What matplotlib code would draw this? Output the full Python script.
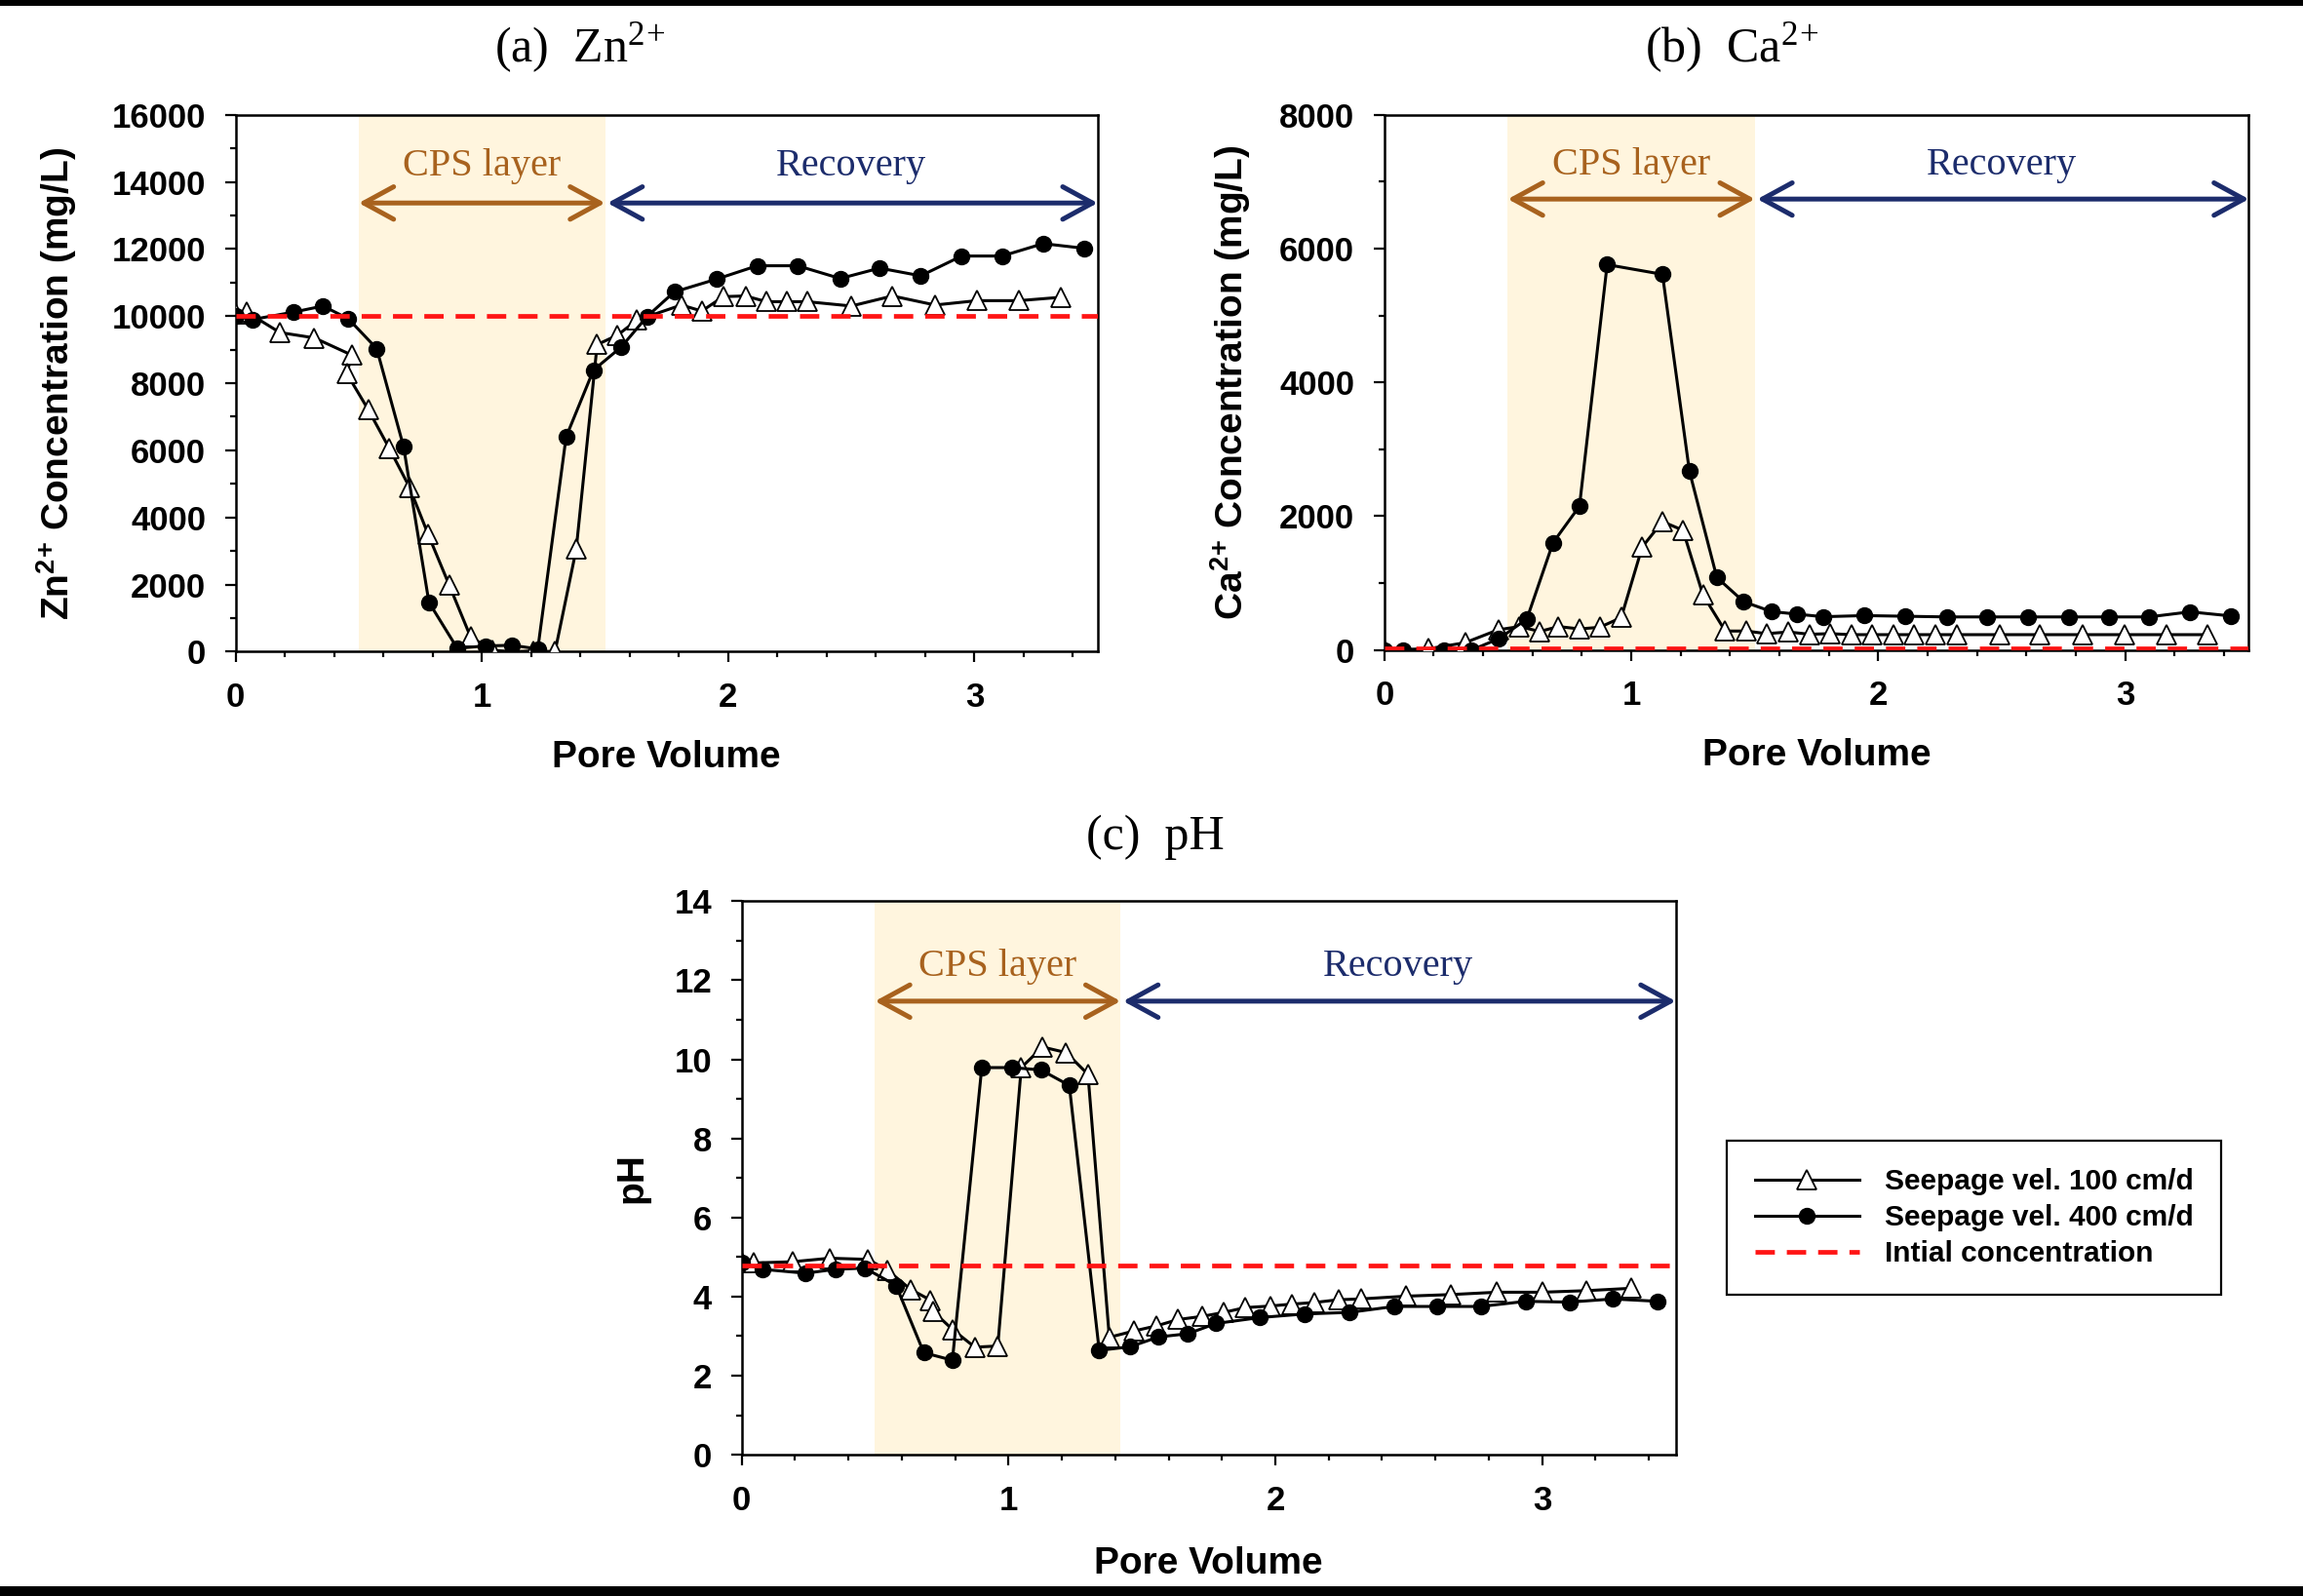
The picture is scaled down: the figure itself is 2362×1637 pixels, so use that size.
import numpy as np
import matplotlib
matplotlib.use("Agg")
import matplotlib.pyplot as plt
from matplotlib.lines import Line2D
from matplotlib.ticker import MultipleLocator
from matplotlib import font_manager

# ---------------- data ----------------
# (a) Zn2+ (mg/L)
zn_pv_100 = [0, 0.045, 0.18, 0.32, 0.471, 0.452, 0.538, 0.624, 0.706, 0.782, 0.867,
             0.954, 1.042, 1.124, 1.207, 1.297, 1.383, 1.468, 1.55, 1.63, 1.81, 1.893,
             1.98, 2.07, 2.155, 2.24, 2.32, 2.5, 2.667, 2.84, 3.01, 3.18, 3.35]
zn_100 = [10070, 10120, 9510, 9350, 8840, 8280, 7220, 6060, 4900, 3490, 1990,
          440, 40, 0, 20, 0, 3050, 9150, 9430, 9880, 10330, 10150,
          10580, 10600, 10430, 10430, 10430, 10300, 10600, 10330, 10460, 10460, 10560]
zn_pv_400 = [0, 0.07, 0.236, 0.355, 0.458, 0.573, 0.682, 0.785, 0.9, 1.013, 1.123,
             1.227, 1.342, 1.453, 1.566, 1.671, 1.781, 1.952, 2.118, 2.282, 2.455,
             2.615, 2.782, 2.948, 3.112, 3.279, 3.445]
zn_400 = [10000, 9900, 10120, 10300, 9920, 9030, 6110, 1470, 100, 170, 190,
          80, 6400, 8390, 9080, 9990, 10720, 11100, 11500, 11500, 11120,
          11430, 11200, 11790, 11790, 12160, 12020]
zn_initial = 10000

# (b) Ca2+ (mg/L)
ca_pv_100 = [0, 0.18, 0.327, 0.461, 0.547, 0.629, 0.705, 0.79, 0.872, 0.959, 1.044,
             1.126, 1.209, 1.29, 1.38, 1.466, 1.547, 1.636, 1.722, 1.804, 1.89, 1.976,
             2.06, 2.143, 2.232, 2.318, 2.49, 2.655, 2.827, 2.997, 3.167, 3.333]
ca_100 = [0, 20, 110, 303, 351, 278, 351, 316, 340, 485, 1540,
          1920, 1790, 825, 284, 284, 245, 270, 236, 245, 230, 230,
          230, 230, 230, 230, 230, 230, 230, 230, 230, 230]
ca_pv_400 = [0, 0.074, 0.24, 0.353, 0.464, 0.577, 0.683, 0.79, 0.902, 1.126, 1.235,
             1.346, 1.455, 1.567, 1.672, 1.777, 1.943, 2.11, 2.277, 2.44, 2.607,
             2.77, 2.935, 3.095, 3.262, 3.426]
ca_400 = [0, 0, 0, 0, 170, 464, 1605, 2150, 5760, 5615, 2675,
          1086, 722, 576, 536, 498, 515, 505, 495, 495, 495,
          495, 495, 495, 571, 510]
ca_initial = 30

# (c) pH
ph_pv_100 = [0, 0.045, 0.19, 0.33, 0.474, 0.546, 0.634, 0.708, 0.717, 0.79, 0.874,
             0.96, 1.048, 1.128, 1.216, 1.298, 1.378, 1.47, 1.555, 1.636, 1.727,
             1.807, 1.886, 1.98, 2.063, 2.147, 2.236, 2.32, 2.49, 2.656, 2.83,
             3.0, 3.167, 3.335]
ph_100 = [4.85, 4.85, 4.88, 4.97, 4.94, 4.67, 4.18, 3.91, 3.63, 3.17, 2.72,
          2.75, 9.79, 10.31, 10.17, 9.62, 2.97, 3.13, 3.26, 3.42, 3.50,
          3.60, 3.72, 3.76, 3.81, 3.85, 3.92, 3.94, 4.01, 4.05, 4.11,
          4.11, 4.15, 4.21]
ph_pv_400 = [0, 0.078, 0.24, 0.352, 0.462, 0.579, 0.683, 0.79, 0.9, 1.015, 1.122,
             1.228, 1.34, 1.455, 1.563, 1.672, 1.778, 1.943, 2.11, 2.278, 2.446,
             2.608, 2.77, 2.938, 3.103, 3.265, 3.433]
ph_400 = [4.85, 4.69, 4.59, 4.69, 4.72, 4.28, 2.58, 2.39, 9.79, 9.79, 9.73,
          9.34, 2.64, 2.73, 2.98, 3.06, 3.32, 3.47, 3.56, 3.60, 3.75,
          3.75, 3.75, 3.88, 3.86, 3.94, 3.88]
ph_initial = 4.78

cps_start = 0.5
cps_end_ab = 1.5
cps_end_c = 1.42

legend_labels = ["Seepage vel. 100 cm/d", "Seepage vel. 400 cm/d", "Intial concentration"]

# ---------------- style ----------------
available = {f.name for f in font_manager.fontManager.ttflist}
SANS = ["Liberation Sans", "DejaVu Sans"]
SERIF = ["Liberation Serif", "DejaVu Serif"]
NARROW = ["Liberation Sans Narrow", "Liberation Sans", "DejaVu Sans"] if "Liberation Sans Narrow" in available else SANS

plt.rcParams["font.family"] = SANS
plt.rcParams["mathtext.default"] = "regular"

SHADE = "#FFF5DE"
RED = "#FF1414"
BROWN = "#A8621E"
NAVY = "#1C2C6C"

TRI = dict(color="k", lw=2.2, marker="^", ms=14, mfc="white", mec="k", mew=1.3)
CIR = dict(color="k", lw=2.2, marker="o", ms=11.5, mfc="k", mec="k")
DASH = dict(color=RED, lw=3.4, ls=(0, (4.2, 2.6)))

fig = plt.figure(figsize=(23.62, 16.37), dpi=100)

ax_a = fig.add_axes([0.1023, 0.5917, 0.3743, 0.3364])
ax_b = fig.add_axes([0.6011, 0.5927, 0.3754, 0.3354])
ax_c = fig.add_axes([0.3220, 0.0885, 0.4056, 0.3469])


def draw_panel(ax, pv100, y100, pv400, y400, init, ymax, ymaj, ymin, cps_end,
               arrow_y, text_y, ylabel, ylab_x):
    ax.axvspan(cps_start, cps_end, color=SHADE, lw=0, zorder=0)
    ax.plot(pv100, y100, "-", zorder=3, **TRI)
    ax.plot(pv400, y400, "-", zorder=4, **CIR)
    ax.axhline(init, zorder=5, **DASH)

    ax.set_xlim(0, 3.5)
    ax.set_ylim(0, ymax)
    ax.xaxis.set_major_locator(MultipleLocator(1))
    ax.xaxis.set_minor_locator(MultipleLocator(0.2))
    ax.yaxis.set_major_locator(MultipleLocator(ymaj))
    ax.yaxis.set_minor_locator(MultipleLocator(ymin))
    ax.tick_params(which="both", direction="out", top=False, right=False, width=1.6)
    ax.tick_params(which="major", length=8, labelsize=25, pad=14)
    ax.tick_params(which="minor", length=4.5)
    for lab in ax.get_xticklabels() + ax.get_yticklabels():
        lab.set_fontweight("bold")
    for sp in ax.spines.values():
        sp.set_linewidth(1.8)

    ax.set_xlabel("Pore Volume", fontsize=28, fontweight="bold")
    ax.xaxis.set_label_coords(0.5, -0.165)
    ax.set_ylabel(ylabel, fontsize=28, fontweight="bold")
    ax.yaxis.set_label_coords(ylab_x, 0.5)

    style = "<->,head_length=0.55,head_width=0.3"
    ax.annotate("", xy=(cps_start, arrow_y), xytext=(cps_end, arrow_y),
                arrowprops=dict(arrowstyle=style, color=BROWN, lw=3.6,
                                shrinkA=0, shrinkB=0, mutation_scale=40), zorder=6)
    ax.annotate("", xy=(cps_end + 0.01, arrow_y), xytext=(3.5, arrow_y),
                arrowprops=dict(arrowstyle=style, color=NAVY, lw=3.6,
                                shrinkA=0, shrinkB=0, mutation_scale=40), zorder=6)
    ax.text((cps_start + cps_end) / 2, text_y, "CPS layer", color=BROWN,
            ha="center", va="center", fontsize=29, family=SERIF)
    ax.text((cps_end + 3.5) / 2, text_y, "Recovery", color=NAVY,
            ha="center", va="center", fontsize=29, family=SERIF)


draw_panel(ax_a, zn_pv_100, zn_100, zn_pv_400, zn_400, zn_initial, 16000, 2000, 1000,
           cps_end_ab, 13370, 14480, "Zn$^{2}$$^{+}$ Concentration (mg/L)", -0.182)
draw_panel(ax_b, ca_pv_100, ca_100, ca_pv_400, ca_400, ca_initial, 8000, 2000, 1000,
           cps_end_ab, 6740, 7240, "Ca$^{2}$$^{+}$ Concentration (mg/L)", -0.152)
draw_panel(ax_c, ph_pv_100, ph_100, ph_pv_400, ph_400, ph_initial, 14, 2, 1,
           cps_end_c, 11.47, 12.33, "pH", -0.098)

# panel titles
fig.text(0.2519, 0.9615, "(a)  Zn$^{2}$$^{+}$", ha="center", va="baseline", fontsize=36, family=SERIF)
fig.text(0.7519, 0.9615, "(b)  Ca$^{2}$$^{+}$", ha="center", va="baseline", fontsize=36, family=SERIF)
fig.text(0.5017, 0.4682, "(c)  pH", ha="center", va="baseline", fontsize=36, family=SERIF)

# legend
handles = [Line2D([], [], **TRI), Line2D([], [], **CIR), Line2D([], [], **DASH)]
leg = fig.legend(handles, legend_labels, loc="center",
                 bbox_to_anchor=(0.8571, 0.237), frameon=True, fancybox=False,
                 edgecolor="k", framealpha=1, handlelength=3.6, handletextpad=0.85,
                 labelspacing=0.3, borderpad=0.95, borderaxespad=0, numpoints=1,
                 prop=dict(family=NARROW, weight="bold", size=21.5))
leg.get_frame().set_linewidth(1.6)

# top and bottom frame bars
fig.add_artist(plt.Rectangle((0, 1 - 6 / 1637), 1, 6 / 1637, transform=fig.transFigure,
                             color="k", lw=0))
fig.add_artist(plt.Rectangle((0, 0), 1, 10 / 1637, transform=fig.transFigure,
                             color="k", lw=0))

fig.savefig("out.png", dpi=100, facecolor="white")
